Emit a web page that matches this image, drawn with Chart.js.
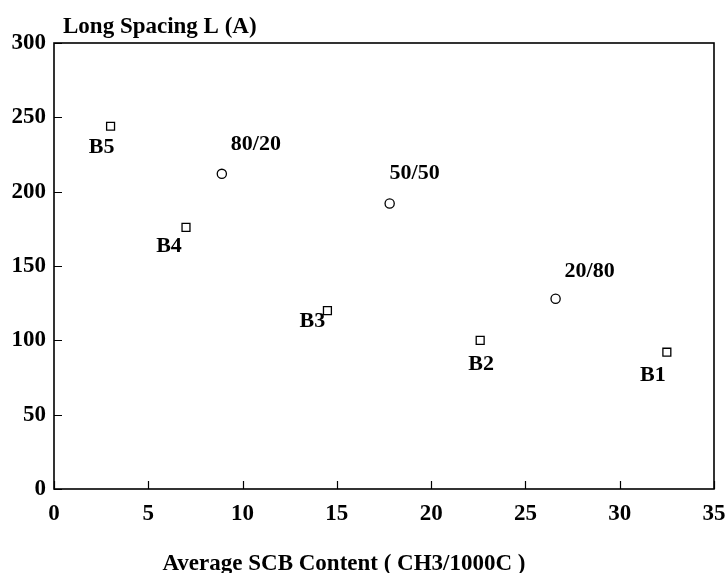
<!DOCTYPE html>
<html>
<head>
<meta charset="utf-8">
<script src="https://cdn.jsdelivr.net/npm/chart.js@4.4.1/dist/chart.umd.min.js"></script>
<style>
html,body{margin:0;padding:0;background:#fff}
#wrap{width:727px;height:573px;position:relative}
</style>
</head>
<body>
<div id="wrap"><canvas id="c"></canvas></div>
<script>
// ---- data ----
const blendLabels = ['B1', 'B2', 'B3', 'B4', 'B5'];
const blendX = [32.5, 22.6, 14.5, 7.0, 3.0];
const blendY = [92, 100, 120, 176, 244];

const mixLabels = ['80/20', '50/50', '20/80'];
const mixX = [8.9, 17.8, 26.6];
const mixY = [212, 192, 128];

const xTicks = [0, 5, 10, 15, 20, 25, 30, 35];
const yTicks = [0, 50, 100, 150, 200, 250, 300];

const yTitle = 'Long Spacing L (A)';
const xTitle = 'Average SCB Content ( CH3/1000C )';

// ---- styling (label offsets in pixels from the marker) ----
const blendLabelOffsets = [[-14, 23], [1, 24], [-15, 11], [-17, 19], [-9, 21]];
const mixLabelOffsets = [[34, -30], [25, -30], [34, -27]];

const FONT = "'Liberation Serif', 'Times New Roman', serif";

const blendPts = blendX.map((x, i) => ({x: x, y: blendY[i]}));
const mixPts = mixX.map((x, i) => ({x: x, y: mixY[i]}));

const decor = {
  id: 'decor',
  afterDraw(chart) {
    const ctx = chart.ctx;
    const a = chart.chartArea;
    const xs = chart.scales.x, ys = chart.scales.y;
    ctx.save();
    // frame
    ctx.strokeStyle = '#000';
    ctx.lineWidth = 1.6;
    ctx.strokeRect(a.left, a.top, a.right - a.left, a.bottom - a.top);
    // inside ticks
    ctx.lineWidth = 1.2;
    ctx.beginPath();
    yTicks.forEach(v => {
      const py = Math.round(ys.getPixelForValue(v)) + 0.5;
      ctx.moveTo(a.left, py); ctx.lineTo(a.left + 8, py);
    });
    xTicks.forEach(v => {
      const px = Math.round(xs.getPixelForValue(v)) + 0.5;
      ctx.moveTo(px, a.bottom); ctx.lineTo(px, a.bottom - 8);
    });
    ctx.stroke();
    // point labels
    ctx.fillStyle = '#000';
    ctx.font = 'bold 22px ' + FONT;
    ctx.textAlign = 'center';
    ctx.textBaseline = 'middle';
    const m0 = chart.getDatasetMeta(0), m1 = chart.getDatasetMeta(1);
    blendLabels.forEach((t, i) => {
      const el = m0.data[i];
      ctx.fillText(t, el.x + blendLabelOffsets[i][0], el.y + blendLabelOffsets[i][1]);
    });
    mixLabels.forEach((t, i) => {
      const el = m1.data[i];
      ctx.fillText(t, el.x + mixLabelOffsets[i][0], el.y + mixLabelOffsets[i][1]);
    });
    // titles
    ctx.font = 'bold 23px ' + FONT;
    ctx.textAlign = 'left';
    ctx.textBaseline = 'alphabetic';
    ctx.fillText(yTitle, 63, 33);
    ctx.textAlign = 'center';
    ctx.fillText(xTitle, 344, 570);
    ctx.restore();
  }
};

new Chart(document.getElementById('c'), {
  type: 'scatter',
  data: {
    datasets: [
      {
        label: 'Blends',
        data: blendPts,
        pointStyle: 'rect',
        pointRadius: 5.6,
        pointBackgroundColor: '#fff',
        pointBorderColor: '#000',
        pointBorderWidth: 1.3,
        showLine: false
      },
      {
        label: 'Mixtures',
        data: mixPts,
        pointStyle: 'circle',
        pointRadius: 4.6,
        pointBackgroundColor: '#fff',
        pointBorderColor: '#000',
        pointBorderWidth: 1.3,
        showLine: false
      }
    ]
  },
  options: {
    responsive: true,
    maintainAspectRatio: false,
    animation: false,
    events: [],
    layout: {padding: {left: 0, top: 43, right: 13, bottom: 0}},
    plugins: {legend: {display: false}, tooltip: {enabled: false}, title: {display: false}},
    scales: {
      x: {
        type: 'linear',
        min: 0, max: 35,
        afterBuildTicks: s => { s.ticks = xTicks.map(v => ({value: v})); },
        afterFit: s => { s.height = 84; s.paddingLeft = 0; s.paddingRight = 0; },
        grid: {display: false, drawTicks: false},
        border: {display: false},
        ticks: {color: '#000', padding: 11, maxRotation: 0, font: {family: FONT, size: 23, weight: 'bold'}}
      },
      y: {
        type: 'linear',
        min: 0, max: 300,
        afterBuildTicks: s => { s.ticks = yTicks.map(v => ({value: v})); },
        afterFit: s => { s.width = 54; s.paddingTop = 0; s.paddingBottom = 0; },
        grid: {display: false, drawTicks: false},
        border: {display: false},
        ticks: {color: '#000', padding: 8, font: {family: FONT, size: 23, weight: 'bold'}}
      }
    }
  },
  plugins: [decor]
});
</script>
</body>
</html>
